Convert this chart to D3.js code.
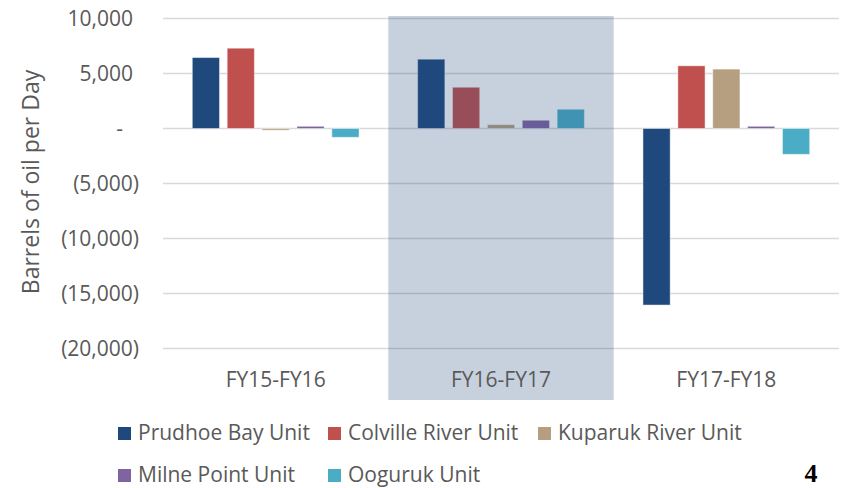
<!DOCTYPE html>
<html>
<head>
<meta charset="utf-8">
<script src="https://cdn.jsdelivr.net/npm/d3@7"></script>
<style>
  body { margin: 0; background: #fff; }
  text { font-family: "Open Sans", sans-serif; fill: #595959; }
</style>
</head>
<body>
<div id="chart"></div>
<script>
// data
var categories = ["FY15-FY16", "FY16-FY17", "FY17-FY18"];
var series = ["Prudhoe Bay Unit", "Colville River Unit", "Kuparuk River Unit", "Milne Point Unit", "Ooguruk Unit"];
var prudhoe = [6450, 6300, -16050];
var colville = [7300, 3750, 5700];
var kuparuk = [-150, 350, 5400];
var milne = [200, 750, 200];
var ooguruk = [-800, 1750, -2350];
var yTicks = [10000, 5000, 0, -5000, -10000, -15000, -20000];
var colors = ["#1f497d", "#c0504d", "#b69f80", "#8064a2", "#4bacc6"];
var highlighted = "FY16-FY17";

var values = [prudhoe, colville, kuparuk, milne, ooguruk];

var width = 841, height = 488;
var svg = d3.select("#chart").append("svg")
    .attr("width", width)
    .attr("height", height);

var x0 = d3.scaleBand()
    .domain(categories)
    .range([163, 839]);

var x1 = d3.scaleBand()
    .domain(series)
    .range([0, x0.bandwidth()])
    .paddingInner(0.22)
    .paddingOuter(0.84);

var y = d3.scaleLinear()
    .domain([-20000, 10000])
    .range([348.5, 18.5]);

var fmt = d3.format(",");
function tickText(d) {
    if (d == 0) return "-";
    if (d < 0) return "(" + fmt(-d) + ")";
    return fmt(d);
}

// gridlines
svg.append("g")
    .selectAll("line")
    .data(yTicks)
    .enter()
    .append("line")
    .attr("x1", x0.range()[0])
    .attr("x2", x0.range()[1])
    .attr("y1", function(d) { return y(d); })
    .attr("y2", function(d) { return y(d); })
    .attr("stroke", "#d9d9d9")
    .attr("stroke-width", 1.3);

// y tick labels
svg.append("g")
    .selectAll("text")
    .data(yTicks)
    .enter()
    .append("text")
    .attr("x", function(d) { return d < 0 ? 139 : (d == 0 ? 123 : 133); })
    .attr("y", function(d) { return y(d); })
    .attr("dy", "0.35em")
    .attr("text-anchor", "end")
    .attr("font-size", 21)
    .text(tickText);

// y axis title
svg.append("text")
    .attr("transform", "translate(39,182) rotate(-90)")
    .attr("text-anchor", "middle")
    .attr("font-size", 23)
    .text("Barrels of oil per Day");

// bars
var rows = [];
categories.forEach(function(c, ci) {
    series.forEach(function(s, si) {
        rows.push({cat: c, ser: s, si: si, v: values[si][ci]});
    });
});

svg.append("g")
    .selectAll("rect")
    .data(rows)
    .enter()
    .append("rect")
    .attr("x", function(d) { return x0(d.cat) + x1(d.ser); })
    .attr("y", function(d) { return y(Math.max(0, d.v)); })
    .attr("width", x1.bandwidth())
    .attr("height", function(d) { return Math.abs(y(d.v) - y(0)); })
    .attr("fill", function(d) { return colors[d.si]; })
    .attr("stroke", "#ffffff")
    .attr("stroke-opacity", 0.45)
    .attr("stroke-width", 1);

// highlight band over the middle period
svg.append("rect")
    .attr("x", x0(highlighted))
    .attr("y", 16)
    .attr("width", x0.bandwidth())
    .attr("height", 384)
    .attr("fill", "#1f497d")
    .attr("fill-opacity", 0.25);

// category labels
svg.append("g")
    .selectAll("text")
    .data(categories)
    .enter()
    .append("text")
    .attr("x", function(d) { return x0(d) + x0.bandwidth() / 2; })
    .attr("y", 387)
    .attr("text-anchor", "middle")
    .attr("font-size", 21)
    .text(function(d) { return d; });

// legend
var legend = svg.append("g")
    .selectAll("g")
    .data(series)
    .enter()
    .append("g")
    .attr("transform", function(d, i) {
        return "translate(" + (118 + (i % 3) * 210) + "," + (440 + Math.floor(i / 3) * 42) + ")";
    });

legend.append("rect")
    .attr("x", 0)
    .attr("y", -13)
    .attr("width", 13)
    .attr("height", 13)
    .attr("fill", function(d, i) { return colors[i]; });

legend.append("text")
    .attr("x", 20)
    .attr("y", 0)
    .attr("font-size", 21)
    .text(function(d) { return d; });

// page number
svg.append("text")
    .attr("x", 811)
    .attr("y", 482)
    .attr("text-anchor", "middle")
    .attr("font-size", 26)
    .attr("font-weight", "bold")
    .style("font-family", "'Liberation Serif', serif")
    .style("fill", "#000")
    .text("4");
</script>
</body>
</html>
